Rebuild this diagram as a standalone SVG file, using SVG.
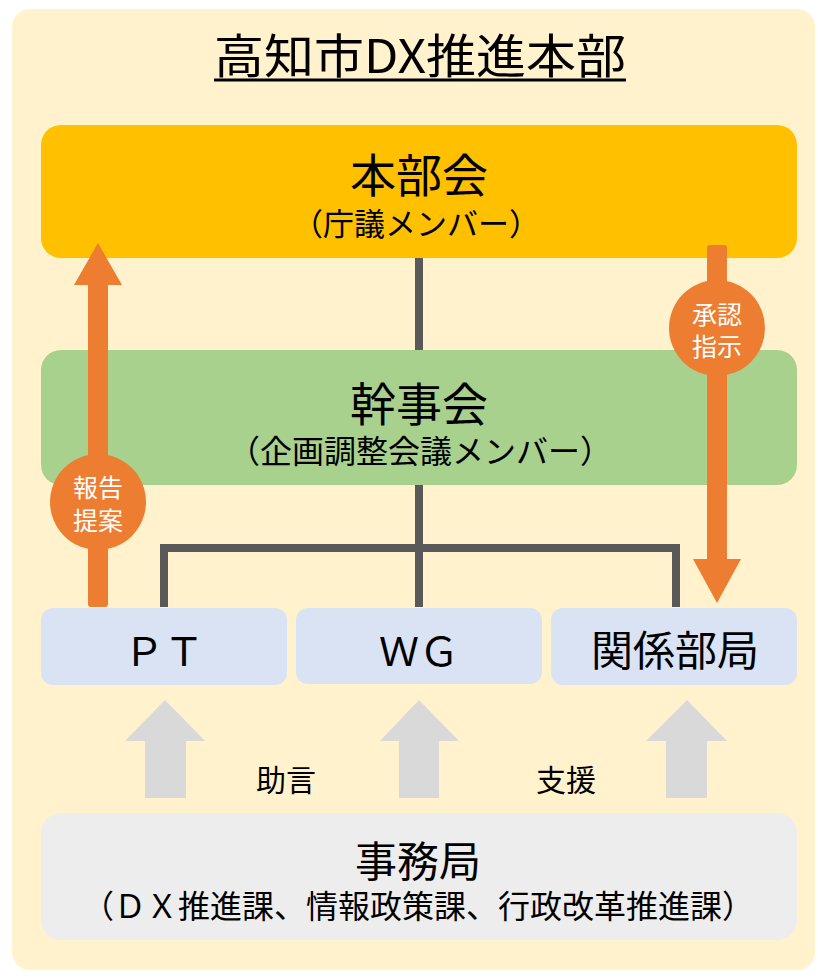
<svg xmlns="http://www.w3.org/2000/svg" width="818" height="977" viewBox="0 0 818 977">
<defs>
<style>
.t{font-family:"Noto Sans CJK JP","Noto Sans CJK SC",sans-serif;fill:#000;text-anchor:middle}
.w{font-family:"Noto Sans CJK JP","Noto Sans CJK SC",sans-serif;fill:#fff;text-anchor:middle;font-size:25px}
.ln{stroke:#595959;stroke-width:8;fill:none}
.or{fill:#ED7D31}
.ga{fill:#D9D9D9}
</style>
</defs>
<rect x="12" y="9" width="803" height="961" rx="18" fill="#FFF2CC"/>
<g id="title">
<text class="t" x="420" y="73" font-size="47" textLength="412" lengthAdjust="spacingAndGlyphs">高知市DX推進本部</text>
<rect x="214" y="78.5" width="412" height="3" fill="#000"/>
</g>
<g id="connectors">
<path class="ln" d="M419 258V350M419 485V607M164 607V548H676V607"/>
</g>
<g id="honbukai">
<rect x="41" y="125" width="756" height="133" rx="20" fill="#FFC000"/>
<text class="t" x="419" y="192" font-size="46">本部会</text>
<text class="t" x="416" y="235" font-size="31">（庁議メンバー）</text>
</g>
<g id="kanjikai">
<rect x="41" y="350" width="756" height="135" rx="20" fill="#A9D18E"/>
<text class="t" x="419" y="421" font-size="46">幹事会</text>
<text class="t" x="420" y="463" font-size="32">（企画調整会議メンバー）</text>
</g>
<g id="pt">
<rect x="41" y="608" width="246" height="77" rx="12" fill="#DAE3F3"/>
<text class="t" x="164" y="666" font-size="40">ＰＴ</text>
</g>
<g id="wg">
<rect x="296" y="608" width="246" height="76" rx="12" fill="#DAE3F3"/>
<text class="t" x="419" y="666" font-size="40">ＷＧ</text>
</g>
<g id="kankeibukyoku">
<rect x="551" y="608" width="246" height="77" rx="12" fill="#DAE3F3"/>
<text class="t" x="675" y="666" font-size="42">関係部局</text>
</g>
<g id="jimukyoku">
<rect x="41" y="813" width="756" height="127" rx="20" fill="#EDEDED"/>
<text class="t" x="418" y="877" font-size="42">事務局</text>
<text class="t" x="418" y="918" font-size="32">（ＤＸ推進課、情報政策課、行政改革推進課）</text>
</g>
<g id="report-arrow">
<path class="or" d="M88 285H74L98 243L122 285H108V604Q108 607 105 607H91Q88 607 88 604Z"/>
<circle class="or" cx="98" cy="502" r="48"/>
<text class="w" x="98" y="497">報告</text>
<text class="w" x="98" y="530">提案</text>
</g>
<g id="approve-arrow">
<path class="or" d="M707 248Q707 245 710 245H724Q727 245 727 248V559H741L717 603L693 559H707Z"/>
<circle class="or" cx="717" cy="328" r="48"/>
<text class="w" x="717" y="324">承認</text>
<text class="w" x="717" y="356">指示</text>
</g>
<g id="support-arrows">
<polygon class="ga" points="165,700 205,741 186,741 186,798 145,798 145,741 125,741"/>
<polygon class="ga" points="419,700 459,741 439,741 439,798 399,798 399,741 380,741"/>
<polygon class="ga" points="687,700 727,741 707,741 707,798 666,798 666,741 646,741"/>
<text class="t" x="286" y="791" font-size="30">助言</text>
<text class="t" x="566" y="791" font-size="30">支援</text>
</g>
</svg>
